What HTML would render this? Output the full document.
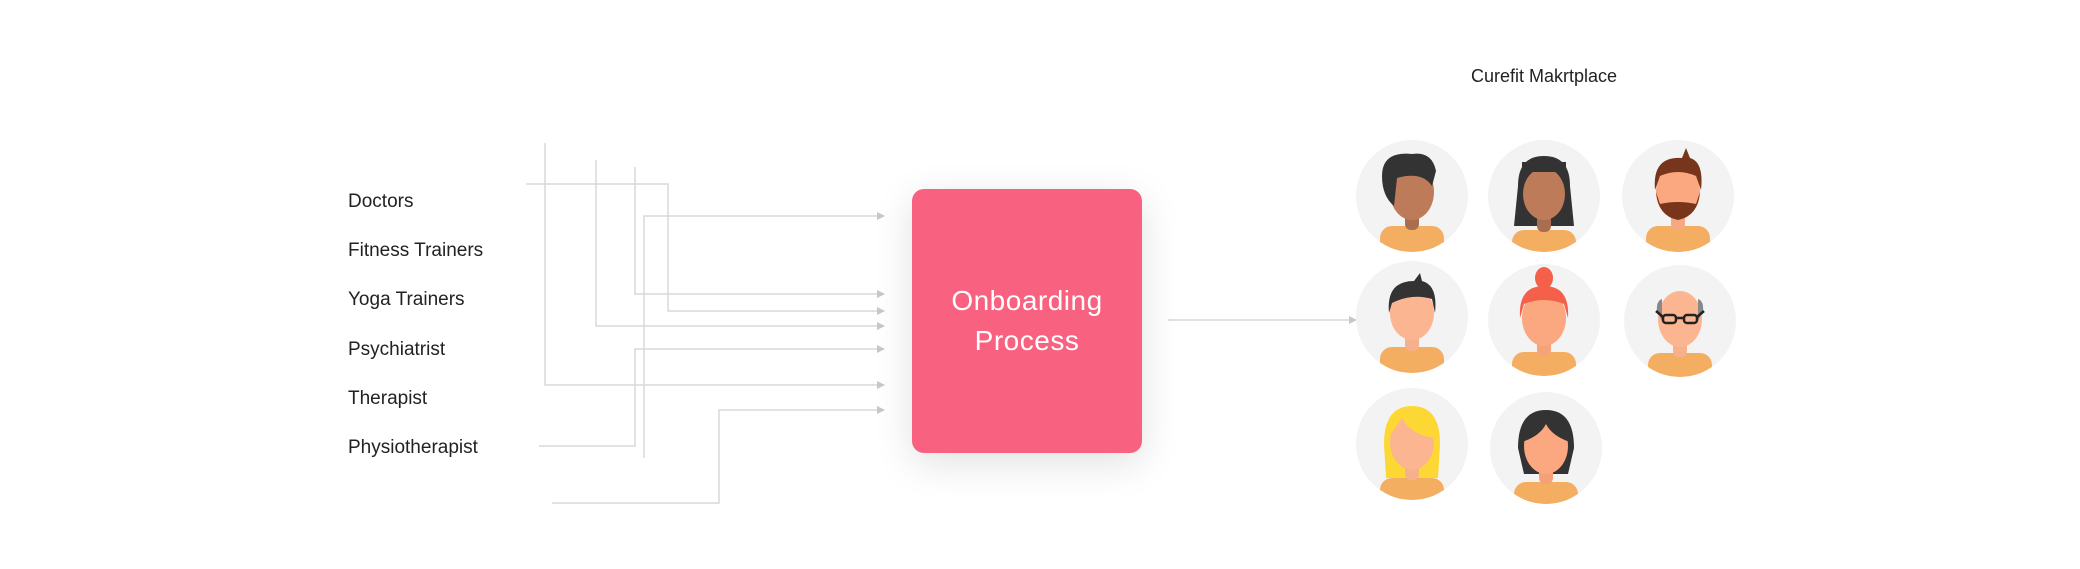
<!DOCTYPE html>
<html><head><meta charset="utf-8"><style>
html,body{margin:0;padding:0;background:#fff;}
body{width:2080px;height:569px;position:relative;overflow:hidden;font-family:"Liberation Sans",sans-serif;}
.l{position:absolute;left:348px;font-size:19px;color:#222;}
.box{position:absolute;left:912px;top:189px;width:230px;height:264px;background:#F86180;border-radius:12px;box-shadow:0 10px 40px rgba(0,0,0,0.12);color:#fff;font-size:28px;text-align:center;line-height:40px;display:flex;align-items:center;justify-content:center;letter-spacing:0.5px;}
.t{position:absolute;left:1444px;top:66px;width:200px;text-align:center;font-size:18px;color:#222;}
</style></head><body>
<div class="l" style="top:191px">Doctors</div>
<div class="l" style="top:240px">Fitness Trainers</div>
<div class="l" style="top:289px">Yoga Trainers</div>
<div class="l" style="top:339px">Psychiatrist</div>
<div class="l" style="top:388px">Therapist</div>
<div class="l" style="top:437px">Physiotherapist</div>
<svg width="2080" height="569" style="position:absolute;left:0;top:0">
<defs><marker id="a" markerWidth="8" markerHeight="8" refX="7" refY="4" orient="auto" markerUnits="userSpaceOnUse"><path d="M0,0 L8,4 L0,8z" fill="#c8c8c8"/></marker>
<clipPath id="c"><circle cx="0" cy="0" r="56"/></clipPath></defs>
<g fill="none" stroke="#d8d8d8" stroke-width="1.5">
<path d="M526,184 H668 V311 H884" marker-end="url(#a)"/>
<path d="M545,143 V385 H884" marker-end="url(#a)"/>
<path d="M596,160 V326 H884" marker-end="url(#a)"/>
<path d="M635,167 V294 H884" marker-end="url(#a)"/>
<path d="M644,458 V216 H884" marker-end="url(#a)"/>
<path d="M539,446 H635 V349 H884" marker-end="url(#a)"/>
<path d="M552,503 H719 V410 H884" marker-end="url(#a)"/>
<path d="M1168,320 H1356" marker-end="url(#a)"/>
</g>
<g transform="translate(-7,0)">
<g transform="translate(1419,196)"><circle r="56" fill="#f3f3f3"/><g clip-path="url(#c)"><rect x="-32" y="30" width="64" height="40" rx="12" fill="#F4AE62"/><rect x="-7" y="12" width="14" height="22" rx="6" fill="#a96e50"/><ellipse cy="-4" rx="22" ry="28" fill="#BE7B5A"/><path d="M-30,-20 Q-30,-45 0,-42 Q20,-45 24,-25 L20,-10 Q10,-25 -15,-18 L-18,10 Q-30,0 -30,-20z" fill="#333"/></g></g>
<g transform="translate(1551,196)"><circle r="56" fill="#f3f3f3"/><g clip-path="url(#c)"><path d="M-26,-10 Q-26,-40 0,-40 Q26,-40 26,-10 L30,30 L-30,30z" fill="#333"/><rect x="-32" y="34" width="64" height="40" rx="12" fill="#F4AE62"/><rect x="-7" y="14" width="14" height="22" rx="6" fill="#a96e50"/><ellipse cy="-2" rx="21" ry="26" fill="#BE7B5A"/><rect x="-22" y="-34" width="44" height="10" fill="#333"/></g></g>
<g transform="translate(1685,196)"><circle r="56" fill="#f3f3f3"/><g clip-path="url(#c)"><rect x="-32" y="30" width="64" height="40" rx="12" fill="#F4AE62"/><rect x="-7" y="12" width="14" height="22" rx="6" fill="#f6a883"/><ellipse cy="-4" rx="22" ry="27" fill="#FBA77F"/><path d="M-22,-4 Q-20,20 0,24 Q20,20 22,-4 L18,8 Q0,4 -18,8z" fill="#77351B"/><path d="M-23,-6 Q-26,-40 4,-38 L8,-48 L12,-38 Q26,-34 23,-6 L18,-20 Q0,-28 -18,-20z" fill="#77351B"/></g></g>
<g transform="translate(1419,317)"><circle r="56" fill="#f3f3f3"/><g clip-path="url(#c)"><rect x="-32" y="30" width="64" height="40" rx="12" fill="#F4AE62"/><rect x="-7" y="12" width="14" height="22" rx="6" fill="#f7b08c"/><ellipse cy="-4" rx="22" ry="27" fill="#FCB591"/><path d="M-23,-4 Q-26,-36 2,-36 L8,-44 L10,-36 Q26,-32 23,-4 L20,-18 Q0,-24 -20,-14z" fill="#333"/></g></g>
<g transform="translate(1551,320)"><circle r="56" fill="#f3f3f3"/><g clip-path="url(#c)"><rect x="-32" y="32" width="64" height="40" rx="12" fill="#F4AE62"/><rect x="-7" y="14" width="14" height="22" rx="6" fill="#f7a37a"/><ellipse cy="-2" rx="22" ry="28" fill="#FBA77F"/><path d="M-24,-2 Q-26,-34 0,-34 Q26,-34 24,-2 L20,-16 Q0,-24 -20,-16z" fill="#F4604A"/><ellipse cy="-42" rx="9" ry="11" fill="#F4604A"/></g></g>
<g transform="translate(1687,321)"><circle r="56" fill="#f3f3f3"/><g clip-path="url(#c)"><rect x="-32" y="32" width="64" height="40" rx="12" fill="#F4AE62"/><rect x="-7" y="14" width="14" height="22" rx="6" fill="#f7b08c"/><ellipse cy="-2" rx="22" ry="28" fill="#FCB591"/><path d="M-23,-10 Q-24,-20 -18,-22 L-18,0z M23,-10 Q24,-20 18,-22 L18,0z" fill="#888"/><g fill="none" stroke="#222" stroke-width="2.5"><rect x="-17" y="-6" width="13" height="8" rx="3"/><rect x="4" y="-6" width="13" height="8" rx="3"/><path d="M-4,-3 H4 M-17,-4 L-24,-10 M17,-4 L24,-10"/></g></g></g>
<g transform="translate(1419,444)"><circle r="56" fill="#f3f3f3"/><g clip-path="url(#c)"><path d="M-28,0 Q-28,-38 0,-38 Q28,-38 28,0 L26,34 L-26,34z" fill="#FDD835"/><rect x="-32" y="34" width="64" height="40" rx="12" fill="#F4AE62"/><rect x="-7" y="14" width="14" height="22" rx="6" fill="#f7b08c"/><ellipse cy="-2" rx="22" ry="28" fill="#FCB591"/><path d="M-24,-6 Q-24,-36 2,-36 Q26,-34 24,-6 Q0,-8 -10,-26z" fill="#FDD835"/></g></g>
<g transform="translate(1553,448)"><circle r="56" fill="#f3f3f3"/><g clip-path="url(#c)"><path d="M-28,0 Q-28,-38 0,-38 Q28,-38 28,0 L22,26 L-22,26z" fill="#333"/><rect x="-32" y="34" width="64" height="40" rx="12" fill="#F4AE62"/><rect x="-7" y="14" width="14" height="22" rx="6" fill="#f6a07a"/><ellipse cy="-2" rx="22" ry="28" fill="#FBA77F"/><path d="M-24,-6 Q-24,-36 0,-36 Q24,-36 24,-6 Q6,-12 0,-24 Q-6,-12 -24,-6z" fill="#333"/></g></g>
</g>
</svg>
<div class="box">Onboarding<br>Process</div>
<div class="t">Curefit Makrtplace</div>
</body></html>
